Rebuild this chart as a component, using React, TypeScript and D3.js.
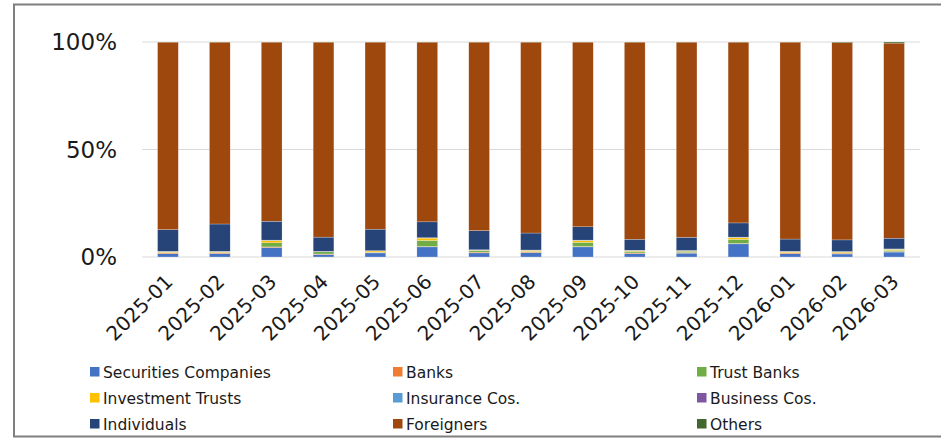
import * as d3 from 'd3'

// monthly shares by investor type (%)
const months = [
  '2025-01', '2025-02', '2025-03', '2025-04', '2025-05', '2025-06', '2025-07', '2025-08',
  '2025-09', '2025-10', '2025-11', '2025-12', '2026-01', '2026-02', '2026-03',
]
const securities = [1.5, 1.6, 4.4, 1.2, 1.9, 4.7, 1.9, 2.0, 4.7, 1.6, 1.8, 6.1, 1.5, 1.4, 2.3]
const banks = [0.4, 0.4, 0.3, 0.2, 0.3, 0.2, 0.4, 0.3, 0.2, 0.3, 0.3, 0.2, 0.4, 0.4, 0.2]
const trustBanks = [0.3, 0.2, 1.9, 1.0, 0.1, 2.8, 0.8, 0.3, 1.9, 0.7, 0.6, 1.9, 0.2, 0.3, 0.6]
const investmentTrusts = [0.3, 0.3, 1.1, 0.1, 0.5, 1.1, 0.1, 0.5, 0.9, 0.4, 0.2, 0.9, 0.4, 0.3, 0.5]
const insurance = [0.1, 0.1, 0.1, 0.1, 0.1, 0.1, 0.1, 0.1, 0.1, 0.1, 0.1, 0.1, 0.1, 0.1, 0.1]
const business = [0.05, 0.05, 0.05, 0.05, 0.05, 0.05, 0.05, 0.05, 0.05, 0.05, 0.05, 0.05, 0.05, 0.05, 0.05]
const individuals = [10.1, 12.7, 8.8, 6.6, 10.0, 7.4, 8.9, 7.9, 6.2, 5.1, 6.1, 6.6, 5.7, 5.4, 5.0]
const foreigners = [87.2, 84.6, 83.3, 90.7, 87.0, 83.6, 87.6, 88.8, 85.9, 91.7, 90.8, 84.1, 91.6, 91.7, 90.7]
const others = [0.05, 0.05, 0.05, 0.05, 0.05, 0.05, 0.05, 0.05, 0.05, 0.05, 0.05, 0.05, 0.05, 0.3, 0.5]

const seriesNames = [
  'Securities Companies', 'Banks', 'Trust Banks', 'Investment Trusts', 'Insurance Cos.',
  'Business Cos.', 'Individuals', 'Foreigners', 'Others',
]
const seriesValues = [securities, banks, trustBanks, investmentTrusts, insurance, business, individuals, foreigners, others]
const colors = ['#4472C4', '#ED7D31', '#70AD47', '#FFC000', '#5B9BD5', '#7E57A0', '#264478', '#9E480E', '#43682B']
const yTicks = [0, 0.5, 1]

const W = 941
const H = 438
const FONT = 'DejaVu Sans, Verdana, sans-serif'

export default function App() {
  // rows for d3.stack
  const rows = months.map((m, i) => {
    const r: Record<string, any> = { month: m }
    seriesNames.forEach((s, j) => (r[s] = seriesValues[j][i]))
    return r
  })
  const stacked = d3.stack().keys(seriesNames).offset(d3.stackOffsetExpand)(rows as any)

  const x = d3.scaleBand().domain(months).range([142, 920]).paddingInner(0.6).paddingOuter(0.3)
  const y = d3.scaleLinear().domain([0, 1]).range([257, 42])
  const color = d3.scaleOrdinal<string>().domain(seriesNames).range(colors)

  const legendCols = [90, 393, 697]
  const legendRows = [367, 393, 419]

  return (
    <svg width={W} height={H} style={{ position: 'absolute', left: 0, top: 0, background: '#fff' }}>
      <rect x={14} y={4.5} width={W + 20} height={432} fill="#fff" stroke="#7F7F7F" strokeWidth={2} />

      {yTicks.map((t) => (
        <g key={t}>
          <line x1={142} x2={920} y1={y(t)} y2={y(t)} stroke="#D9D9D9" strokeWidth={1.2} />
          <text x={117} y={y(t)} dy="0.36em" textAnchor="end" fontFamily={FONT} fontSize={23} fill="#1a1a1a">
            {d3.format('.0%')(t)}
          </text>
        </g>
      ))}

      {stacked.map((layer) => (
        <g key={layer.key} fill={color(layer.key)}>
          {layer.map((d, i) => (
            <rect
              key={i}
              x={x(months[i])}
              width={x.bandwidth()}
              y={y(d[1])}
              height={Math.max(0, y(d[0]) - y(d[1]))}
              stroke="#fff"
              strokeWidth={0.4}
              strokeOpacity={0.6}
            />
          ))}
        </g>
      ))}

      {months.map((m) => {
        const cx = (x(m) as number) + x.bandwidth() / 2
        return (
          <text
            key={m}
            transform={`translate(${cx + 6},${283}) rotate(-45)`}
            textAnchor="end"
            fontFamily={FONT}
            fontSize={20}
            fill="#1a1a1a"
          >
            {m}
          </text>
        )
      })}

      {seriesNames.map((s, i) => {
        const lx = legendCols[i % 3]
        const ly = legendRows[Math.floor(i / 3)]
        return (
          <g key={s} transform={`translate(${lx},${ly})`}>
            <rect width={9.5} height={9.5} fill={color(s)} />
            <text x={13} y={10.5} fontFamily={FONT} fontSize={15.5} fill="#1a1a1a">
              {s}
            </text>
          </g>
        )
      })}
    </svg>
  )
}
